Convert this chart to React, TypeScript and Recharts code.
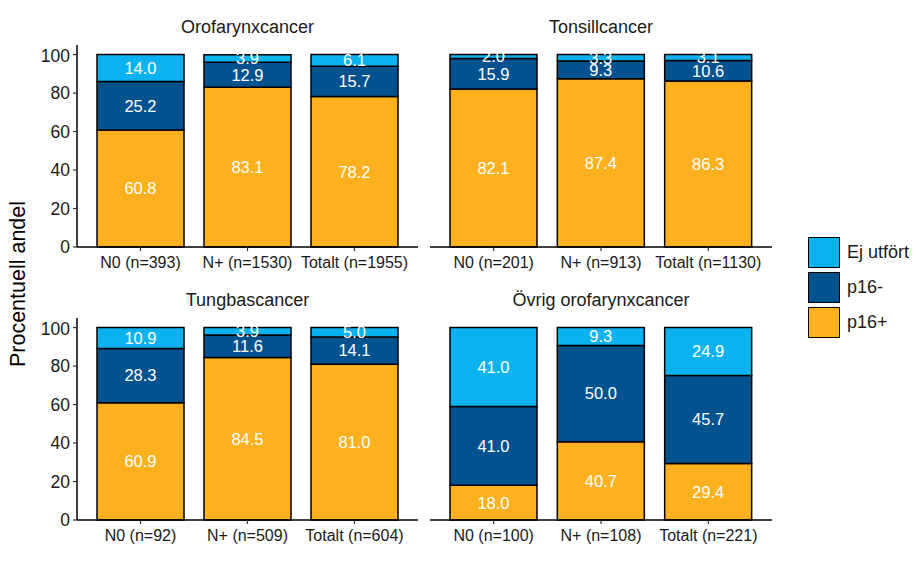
import React from 'react';
import { BarChart, Bar, XAxis, YAxis, LabelList } from 'recharts';

// facets, in reading order
const PANEL_TITLES = ['Orofarynxcancer', 'Tonsillcancer', 'Tungbascancer', 'Övrig orofarynxcancer'];

const GROUP_LABELS = [
  ['N0 (n=393)', 'N+ (n=1530)', 'Totalt (n=1955)'],
  ['N0 (n=201)', 'N+ (n=913)', 'Totalt (n=1130)'],
  ['N0 (n=92)', 'N+ (n=509)', 'Totalt (n=604)'],
  ['N0 (n=100)', 'N+ (n=108)', 'Totalt (n=221)']
];

const P16_POS = [
  [60.8, 83.1, 78.2],
  [82.1, 87.4, 86.3],
  [60.9, 84.5, 81.0],
  [18.0, 40.7, 29.4]
];

const P16_NEG = [
  [25.2, 12.9, 15.7],
  [15.9, 9.3, 10.6],
  [28.3, 11.6, 14.1],
  [41.0, 50.0, 45.7]
];

const EJ_UTFORT = [
  [14.0, 3.9, 6.1],
  [2.0, 3.3, 3.1],
  [10.9, 3.9, 5.0],
  [41.0, 9.3, 24.9]
];

const Y_TICKS = [0, 20, 40, 60, 80, 100];

const SERIES = [
  { key: 'pos', name: 'p16+', color: '#FDB11E' },
  { key: 'neg', name: 'p16-', color: '#02528F' },
  { key: 'ej', name: 'Ej utfört', color: '#0AB3F0' }
];

const FONT = '"Liberation Sans", Arial, sans-serif';

// plot-area boxes for the 4 facets
const PANELS = [
  { left: 77, top: 45, width: 341 },
  { left: 430, top: 45, width: 342 },
  { left: 77, top: 318, width: 341 },
  { left: 430, top: 318, width: 342 }
];

const PLOT_H = 202;
const X_AXIS_H = 32;
const Y_AXIS_W = 45;

function Panel({ idx }: { idx: number }) {
  const box = PANELS[idx];
  const showY = idx % 2 === 0;
  const data = GROUP_LABELS[idx].map((g, i) => ({
    group: g,
    pos: P16_POS[idx][i],
    neg: P16_NEG[idx][i],
    ej: EJ_UTFORT[idx][i]
  }));
  const chartLeft = showY ? box.left - Y_AXIS_W : box.left;
  const chartW = showY ? box.width + Y_AXIS_W : box.width;

  return (
    <div style={{ position: 'absolute', left: chartLeft, top: box.top }}>
      <BarChart
        width={chartW}
        height={PLOT_H + X_AXIS_H}
        data={data}
        margin={{ top: 0, right: 0, bottom: 0, left: 0 }}
        barCategoryGap={0}
      >
        <XAxis
          dataKey="group"
          height={X_AXIS_H}
          padding={{ left: 10, right: 10 }}
          axisLine={{ stroke: '#000', strokeWidth: 1.5 }}
          tickLine={{ stroke: '#333', strokeWidth: 1.2 }}
          tickSize={4}
          tickMargin={6}
          interval={0}
          tick={{ fontSize: 16, fill: '#1a1a1a', fontFamily: FONT }}
        />
        <YAxis
          hide={!showY}
          width={Y_AXIS_W}
          domain={[0, 105]}
          ticks={Y_TICKS}
          axisLine={{ stroke: '#000', strokeWidth: 1.5 }}
          tickLine={{ stroke: '#333', strokeWidth: 1.2 }}
          tickSize={4}
          tickMargin={3}
          tick={{ fontSize: 17.5, fill: '#1a1a1a', fontFamily: FONT }}
        />
        {SERIES.map((s) => (
          <Bar
            key={s.key}
            dataKey={s.key}
            stackId="a"
            fill={s.color}
            stroke="#000"
            strokeWidth={1.5}
            barSize={87}
            isAnimationActive={false}
          >
            <LabelList
              dataKey={s.key}
              position="center"
              formatter={(v: any) => Number(v).toFixed(1)}
              style={{ fontSize: 16.5, fill: '#fff', fontFamily: FONT }}
            />
          </Bar>
        ))}
      </BarChart>
      <div
        style={{
          position: 'absolute',
          left: showY ? Y_AXIS_W : 0,
          width: box.width,
          top: -28,
          lineHeight: '20px',
          textAlign: 'center',
          fontSize: 18,
          fontFamily: FONT,
          color: '#1a1a1a'
        }}
      >
        {PANEL_TITLES[idx]}
      </div>
    </div>
  );
}

export default function App() {
  const legend = [...SERIES].reverse();
  return (
    <div
      style={{
        position: 'absolute',
        left: 0,
        top: 0,
        width: 924,
        height: 563,
        background: '#fff',
        fontFamily: FONT
      }}
    >
      {PANELS.map((_, i) => (
        <Panel key={i} idx={i} />
      ))}
      <div
        style={{
          position: 'absolute',
          left: 18,
          top: 284,
          transform: 'translate(-50%, -50%) rotate(-90deg)',
          whiteSpace: 'nowrap',
          fontSize: 21.5,
          color: '#000'
        }}
      >
        Procentuell andel
      </div>
      {legend.map((s, i) => (
        <div
          key={s.key}
          style={{ position: 'absolute', left: 808, top: 237 + i * 35, display: 'flex', alignItems: 'center' }}
        >
          <div
            style={{
              width: 32,
              height: 31,
              background: s.color,
              border: '1.5px solid #000',
              boxSizing: 'border-box'
            }}
          />
          <span style={{ marginLeft: 7, fontSize: 18, color: '#1a1a1a' }}>{s.name}</span>
        </div>
      ))}
    </div>
  );
}
